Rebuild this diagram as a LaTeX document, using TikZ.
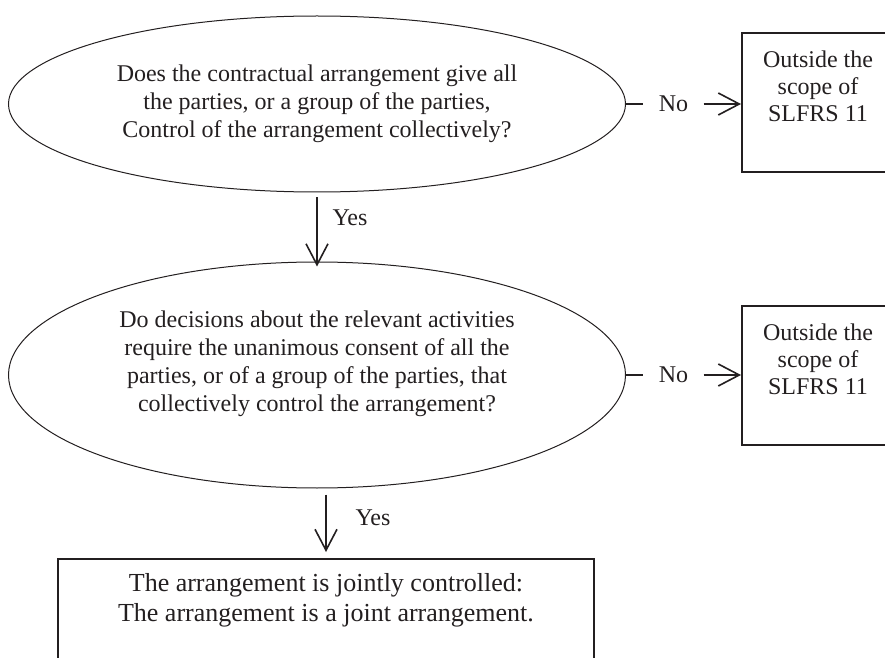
\documentclass[tikz,border=0pt]{standalone}
\usepackage{fontspec}
\setmainfont{Liberation Serif}
\usepackage{xcolor}
\usepackage{tikz}
\usetikzlibrary{calc,shapes.geometric,arrows.meta}
\definecolor{ink}{HTML}{231F20}
\tikzset{
  qnode/.style={draw=ink, ellipse, line width=0.5pt, inner sep=0pt, align=center, text=ink, font=\fontsize{12}{14}\selectfont},
  outbox/.style={draw=ink, line width=1pt, minimum width=76pt, minimum height=69.5pt, inner sep=0pt},
  boxtext/.style={anchor=north, inner sep=0pt, yshift=-9pt, align=center, text=ink, font=\fontsize{12}{13.5}\selectfont},
  resbox/.style={draw=ink, line width=1pt, minimum width=268pt, minimum height=60pt, inner sep=0pt},
  restext/.style={anchor=north, inner sep=0pt, yshift=-7.6pt, align=center, text=ink, font=\fontsize{13}{15}\selectfont},
  conn/.style={draw=ink, line width=0.8pt},
  arr/.style={conn, -{Straight Barb[length=10.5pt, width=11pt]}},
  lbl/.style={text=ink, font=\fontsize{12}{14}\selectfont}
}

\begin{document}
\begin{tikzpicture}[x=0.5pt, y=-0.5pt]
  \useasboundingbox (0,0) rectangle (885,658);

  % questions
  \node[qnode, minimum width=308.5pt, minimum height=88pt] (q1) at (317,104)
    {Does the contractual arrangement give all\\the parties, or a group of the parties,\\Control of the arrangement collectively?};
  \node[qnode, minimum width=308.5pt, minimum height=113pt] (q2) at (317,375)
    {Do decisions about the relevant activities\\require the unanimous consent of all the\\parties, or of a group of the parties, that\\collectively control the arrangement?\\ \mbox{}};

  % outcomes
  \node[outbox, label={[boxtext]north:{Outside the\\scope of\\SLFRS 11}}] (out1) at (818,102.5) {};
  \node[outbox, label={[boxtext]north:{Outside the\\scope of\\SLFRS 11}}] (out2) at (818,375.5) {};
  \node[resbox, label={[restext]north:{The arrangement is jointly controlled:\\The arrangement is a joint arrangement.}}] (res) at (326,619) {};

  % no branches
  \node[lbl, inner xsep=7.5pt] (no1) at (673.5,104) {No};
  \node[lbl, inner xsep=7.5pt] (no2) at (673.5,375) {No};
  \draw[conn] (q1.east) -- (no1.west);
  \draw[arr] (no1.east) -- (no1.east -| out1.west);
  \draw[conn] (q2.east) -- (no2.west);
  \draw[arr] (no2.east) -- (no2.east -| out2.west);

  % yes branches
  \node[lbl] (yes1) at (350,218) {Yes};
  \node[lbl] (yes2) at (373,518) {Yes};
  \draw[arr] ([yshift=-2.5pt]q1.south) -- ([yshift=-2.5pt]q2.north);
  \draw[arr] ($(q2.south -| res.north)+(0,6)$) -- ([yshift=3pt]res.north);
\end{tikzpicture}
\end{document}
